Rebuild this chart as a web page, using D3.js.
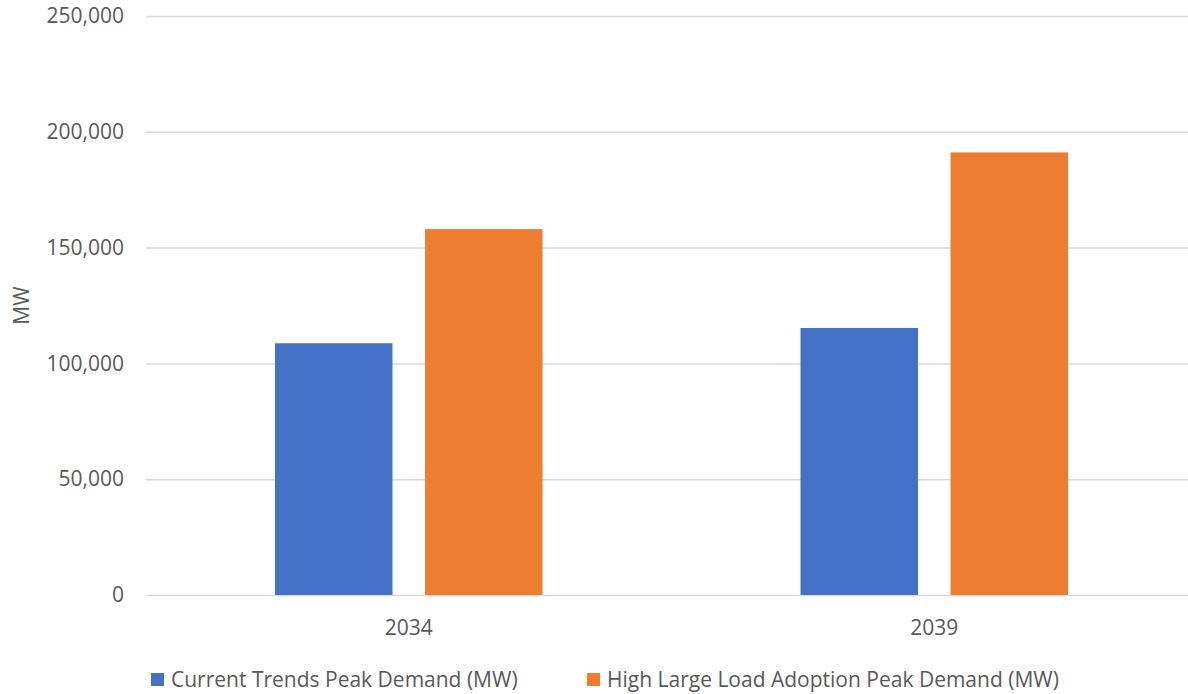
<!DOCTYPE html>
<html>
<head>
<meta charset="utf-8">
<script src="https://cdn.jsdelivr.net/npm/d3@7"></script>
<style>
  body { margin: 0; background: #fff; }
  svg { display: block; font-family: "Open Sans", "Liberation Sans", sans-serif; }
</style>
</head>
<body>
<script>
var years = ["2034", "2039"];
var seriesNames = ["Current Trends Peak Demand (MW)", "High Large Load Adoption Peak Demand (MW)"];
var currentTrends = [108700, 115300];
var highLoad = [158000, 191100];
var yTicks = [0, 50000, 100000, 150000, 200000, 250000];
var colors = ["#4472c4", "#ed7d31"];

var w = 1188, h = 694;
var plotLeft = 146, plotRight = 1197, plotTop = 16, plotBottom = 595;
var fontSize = "21px";

var svg = d3.select("body").append("svg")
  .attr("width", w)
  .attr("height", h);

var data = years.map(function(yr, i) {
  return { year: yr, values: [currentTrends[i], highLoad[i]] };
});

var x0 = d3.scaleBand().domain(years).range([plotLeft, plotRight]);
var groupW = 267.5;
var x1 = d3.scaleBand().domain([0, 1]).range([0, groupW]).paddingInner(0.217);
var y = d3.scaleLinear().domain([0, 250000]).range([plotBottom, plotTop]);

// gridlines
svg.append("g")
  .selectAll("line").data(yTicks).enter().append("line")
  .attr("x1", plotLeft).attr("x2", plotRight)
  .attr("y1", function(d) { return y(d) + 0.5; })
  .attr("y2", function(d) { return y(d) + 0.5; })
  .attr("stroke", "#d9d9d9")
  .attr("stroke-width", 1.5);

// y axis labels
var yAxis = d3.axisLeft(y).tickValues(yTicks).tickFormat(d3.format(",")).tickSize(0).tickPadding(22);
var gy = svg.append("g").attr("transform", "translate(" + plotLeft + ",0)").call(yAxis)
  .attr("font-family", null).attr("font-size", null);
gy.select(".domain").remove();
gy.selectAll("text").attr("fill", "#595959").attr("font-size", fontSize);

// bars
var groups = svg.selectAll(".grp").data(data).enter().append("g")
  .attr("transform", function(d) {
    return "translate(" + (x0(d.year) + (x0.bandwidth() - groupW) / 2) + ",0)";
  });

groups.selectAll("rect")
  .data(function(d) { return d.values; })
  .enter().append("rect")
  .attr("x", function(d, i) { return x1(i); })
  .attr("y", function(d) { return y(d); })
  .attr("width", x1.bandwidth())
  .attr("height", function(d) { return plotBottom - y(d); })
  .attr("fill", function(d, i) { return colors[i]; });

// x axis labels
var xAxis = d3.axisBottom(x0).tickSize(0).tickPadding(25);
var gx = svg.append("g").attr("transform", "translate(0," + plotBottom + ")").call(xAxis)
  .attr("font-family", null).attr("font-size", null);
gx.select(".domain").remove();
gx.selectAll("text").attr("fill", "#595959").attr("font-size", fontSize);

// y axis title
svg.append("text")
  .attr("transform", "translate(29," + ((plotTop + plotBottom) / 2) + ") rotate(-90)")
  .attr("text-anchor", "middle")
  .attr("fill", "#595959")
  .attr("font-size", fontSize)
  .text("MW");

// legend
var legendX = [151, 587];
var lg = svg.selectAll(".lg").data(seriesNames).enter().append("g")
  .attr("transform", function(d, i) { return "translate(" + legendX[i] + ",673)"; });
lg.append("rect").attr("width", 13).attr("height", 13).attr("fill", function(d, i) { return colors[i]; });
lg.append("text").attr("x", 20).attr("y", 14)
  .attr("fill", "#595959").attr("font-size", fontSize)
  .text(function(d) { return d; });
</script>
</body>
</html>
